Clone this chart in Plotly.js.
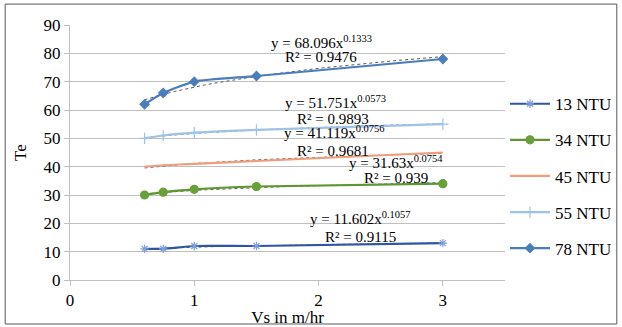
<!DOCTYPE html>
<html><head><meta charset="utf-8">
<script src="https://cdn.plot.ly/plotly-3.0.1.min.js"></script>
<style>
body{margin:0;background:#fff}
#c{width:622px;height:327px}
#c svg text{font-family:"Liberation Serif","Times New Roman",serif !important}
</style>
</head><body><div id="c"></div>
<script>
const vs = [0.6, 0.75, 1, 1.5, 3];
const names = ['13 NTU', '34 NTU', '45 NTU', '55 NTU', '78 NTU'];
const te13 = [11, 11, 12, 12, 13];
const te34 = [30, 31, 32, 33, 34];
const te45 = [40, 40.5, 41, 42, 45];
const te55 = [50, 51, 52, 53, 55];
const te78 = [62, 66, 70, 72, 78];
const fitA = [11.602, 31.63, 41.119, 51.751, 68.096];
const fitB = [0.1057, 0.0754, 0.0756, 0.0573, 0.1333];
const fitR2 = ['0.9115', '0.939', '0.9681', '0.9893', '0.9476'];
const xTicks = [0, 1, 2, 3];
const yTicks = [0, 10, 20, 30, 40, 50, 60, 70, 80, 90];

const series = [te13, te34, te45, te55, te78];
const lineColors = ['#2F55A4', '#5E9632', '#F19C7A', '#9DC3E6', '#4A7EBB'];
const markerColors = ['#7E9FDB', '#6AA03A', '#F19C7A', '#9DC3E6', '#4A7EBB'];
const symbols = ['asterisk-open', 'circle', 'circle', 'cross-thin-open', 'diamond'];
const sizes = [7, 8, 0, 8, 7];
const modes = ['lines+markers', 'lines+markers', 'lines', 'lines+markers', 'lines+markers'];

const SERIF = 'Times New Roman';
const traces = [];
const tx = [];
for (let i = 0; i <= 30; i++) tx.push(0.6 + (3 - 0.6) * i / 30);
for (let k = 0; k < 5; k++) {
  traces.push({
    x: tx, y: tx.map(v => fitA[k] * Math.pow(v, fitB[k])),
    mode: 'lines', showlegend: false, hoverinfo: 'skip',
    line: {color: '#595959', width: 1, dash: 'dot'}
  });
}
for (let k = 0; k < 5; k++) {
  traces.push({
    x: vs, y: series[k], name: names[k], mode: modes[k],
    legendgroup: names[k],
    line: {color: lineColors[k], width: 2.2, shape: 'spline', smoothing: 0.6},
    marker: {symbol: symbols[k], size: sizes[k], color: markerColors[k],
             line: {color: markerColors[k], width: 1.2}}
  });
}

const annPos = [
  [2.34, 21.9, 2.34, 15.2],
  [2.62, 41.6, 2.62, 36.0],
  [2.13, 52.2, 2.12, 45.5],
  [2.14, 62.8, 2.12, 56.8],
  [2.02, 84.0, 2.02, 78.7]
];
const annotations = [];
const af = {family: SERIF, size: 15, color: '#000'};
for (let k = 0; k < 5; k++) {
  annotations.push({x: annPos[k][0], y: annPos[k][1], xref: 'x', yref: 'y', showarrow: false,
    text: 'y = ' + fitA[k] + 'x<sup>' + fitB[k] + '</sup>', font: af});
  annotations.push({x: annPos[k][2], y: annPos[k][3], xref: 'x', yref: 'y', showarrow: false,
    text: 'R² = ' + fitR2[k], font: af});
}

const tf = {family: SERIF, size: 17, color: '#000'};
const layout = {
  width: 622, height: 327,
  margin: {l: 70, r: 117, t: 25, b: 47, autoexpand: false},
  paper_bgcolor: '#fff', plot_bgcolor: '#fff',
  font: {family: SERIF, size: 16, color: '#000'},
  showlegend: true,
  legend: {x: 1.0, y: 0.76, xanchor: 'left', yanchor: 'top', font: {family: SERIF, size: 17, color: '#000'},
           tracegroupgap: 11, itemwidth: 40, bgcolor: 'rgba(0,0,0,0)'},
  xaxis: {range: [0, 3.5], tickvals: xTicks, ticktext: xTicks.map(String), showgrid: false,
          showline: true, linecolor: '#BFBFBF', linewidth: 1, ticks: 'outside', ticklen: 5, tickcolor: '#BFBFBF',
          zeroline: false, tickfont: tf,
          title: {text: 'Vs in m/hr', font: {family: SERIF, size: 17, color: '#000'}, standoff: 4}},
  yaxis: {range: [0, 90], tickvals: yTicks, showgrid: true, gridcolor: '#BFBFBF', gridwidth: 1,
          showline: true, linecolor: '#BFBFBF', ticks: 'outside', ticklen: 5, tickcolor: '#BFBFBF',
          zeroline: false, tickfont: tf,
          title: {text: 'Te', font: {family: SERIF, size: 17, color: '#000'}, standoff: 12}},
  annotations: annotations,
  shapes: [{type: 'rect', xref: 'paper', yref: 'paper', x0: -0.149, x1: 1.257, y0: -0.1725, y1: 1.082,
            line: {color: '#595959', width: 1}, fillcolor: 'rgba(0,0,0,0)', layer: 'below'}]
};
Plotly.newPlot('c', traces, layout, {displayModeBar: false, staticPlot: true});
</script></body></html>
